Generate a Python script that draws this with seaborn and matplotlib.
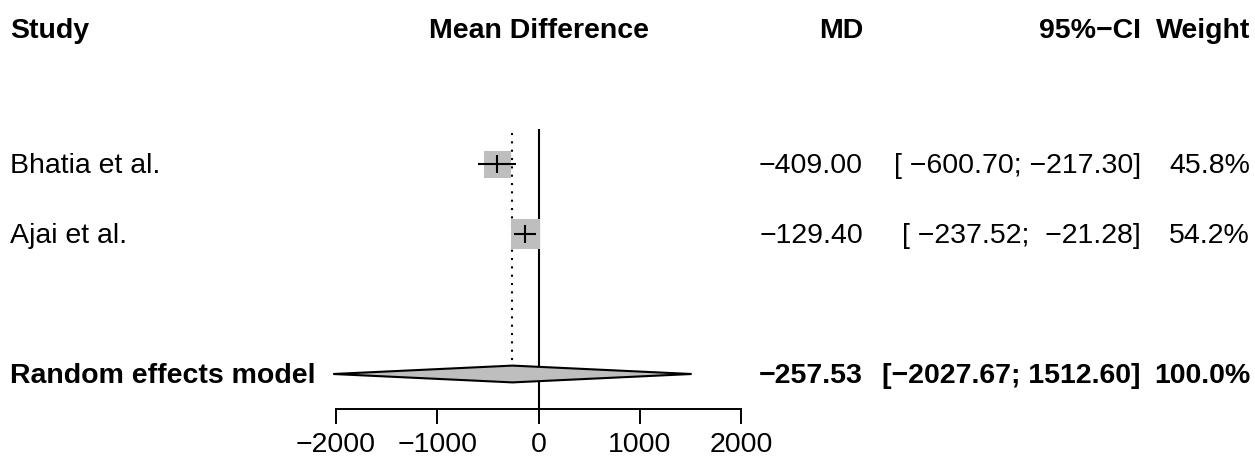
import matplotlib
matplotlib.use("Agg")
import matplotlib.pyplot as plt
import matplotlib.transforms as mtransforms
import pandas as pd
import seaborn as sns

# study data
studies = ["Bhatia et al.", "Ajai et al."]
md = [-409.00, -129.40]
ci_low = [-600.70, -237.52]
ci_high = [-217.30, -21.28]
weights = [45.8, 54.2]

# pooled (random effects)
pooled_label = "Random effects model"
pooled_md = -257.53
pooled_low = -2027.67
pooled_high = 1512.60

# text columns
md_text = ["\u2212409.00", "\u2212129.40"]
ci_text = ["[ \u2212600.70; \u2212217.30]", "[ \u2212237.52;  \u221221.28]"]
w_text = ["45.8%", "54.2%"]
pooled_text = ["\u2212257.53", "[\u22122027.67; 1512.60]", "100.0%"]
headers = ["Study", "Mean Difference", "MD", "95%\u2212CI", "Weight"]
xticks = [-2000, -1000, 0, 1000, 2000]

rows = [1, 2]
pooled_row = 4

sns.set_style("white", {"text.color": "black", "axes.edgecolor": "black",
                        "xtick.color": "black", "axes.labelcolor": "black"})
plt.rcParams['font.family'] = ['Liberation Sans', 'DejaVu Sans']
fs = 20.5
dy = 0.035  # small downward nudge so text sits like the reference

W, H = 1255, 471
fig = plt.figure(figsize=(W / 100, H / 100), dpi=100)
ax = fig.add_axes([336 / W, (H - 409) / H, 405 / W, 409 / H])
ax.set_xlim(-2000, 2000)
ax.set_ylim(4.5, -1.343)

df = pd.DataFrame({"study": studies, "md": md, "row": rows, "weight": weights})

# weight boxes
sns.scatterplot(data=df, x="md", y="row", size="weight",
                sizes={45.8: 378, 54.2: 450}, marker="s", color="#BEBEBE",
                edgecolor="none", linewidth=0, legend=False, ax=ax, zorder=2)

# confidence intervals and point markers
ax.hlines(rows, ci_low, ci_high, color="black", lw=1.5, zorder=3)
ax.plot(md, rows, ls="none", marker="|", ms=12.5, mew=1.5, color="black", zorder=3)

# reference lines
ax.vlines(0, 0.5, 4.5, color="black", lw=1.5, zorder=1)
ax.vlines(pooled_md, 0.55, 3.85, color="black", lw=1.5, linestyles=(0, (1, 3)), zorder=1)

# diamond
dh = 0.12
ax.fill([pooled_low, pooled_md, pooled_high, pooled_md],
        [pooled_row, pooled_row - dh, pooled_row, pooled_row + dh],
        facecolor="#BEBEBE", edgecolor="black", lw=1.5, clip_on=False, zorder=4)

# axis styling
for s in ["top", "left", "right"]:
    ax.spines[s].set_visible(False)
ax.spines["bottom"].set_bounds(-2000, 2000)
ax.spines["bottom"].set_linewidth(1.4)
ax.spines["bottom"].set_color("black")
ax.set_xticks(xticks)
ax.set_xticklabels([("\u2212" + str(-t)) if t < 0 else str(t) for t in xticks],
                   fontsize=fs, color="black")
ax.tick_params(axis="x", length=10.8, width=1.4, pad=5.5, direction="out",
               bottom=True, color="black")
ax.set_yticks([])
ax.set_xlabel("")
ax.set_ylabel("")

tr = mtransforms.blended_transform_factory(fig.transFigure, ax.transData)
head_row = -0.943 + 0.045

def put(x, y, s, ha, bold=False):
    ax.text(x / W, y, s, transform=tr, ha=ha, va="center", fontsize=fs,
            fontweight="bold" if bold else "normal", color="black")

# headers
put(10, head_row, headers[0], "left", True)
put(539, head_row, headers[1], "center", True)
put(863, head_row, headers[2], "right", True)
put(1141, head_row, headers[3], "right", True)
put(1250, head_row, headers[4], "right", True)

# study rows
for i, r in enumerate(rows):
    put(10, r + dy, studies[i], "left")
    put(863, r + dy, md_text[i], "right")
    put(1141, r + dy, ci_text[i], "right")
    put(1250, r + dy, w_text[i], "right")

# pooled row
put(10, pooled_row + dy, pooled_label, "left", True)
put(863, pooled_row + dy, pooled_text[0], "right", True)
put(1141, pooled_row + dy, pooled_text[1], "right", True)
put(1250, pooled_row + dy, pooled_text[2], "right", True)

fig.savefig("out.png", dpi=100)
